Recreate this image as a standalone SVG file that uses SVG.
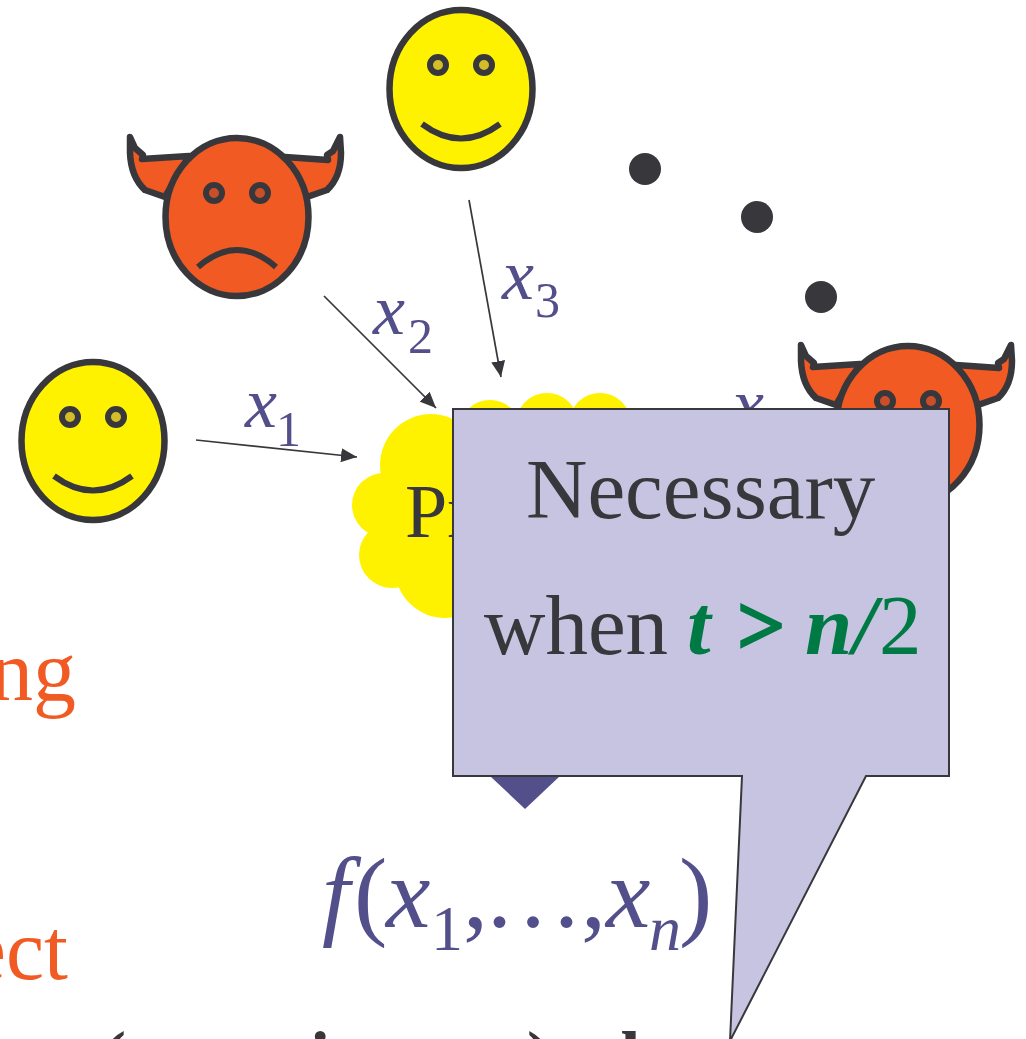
<svg xmlns="http://www.w3.org/2000/svg" width="1026" height="1039" viewBox="0 0 1026 1039">
<style>
text{font-family:"Liberation Serif","Times New Roman",serif}
.face{stroke:#38373c;stroke-width:6.5}
.good{fill:#fff200}
.bad{fill:#f15a22}
.horn{fill:#f15a22;stroke:#38373c;stroke-width:6.5;stroke-linejoin:round}
.eye{stroke:#38373c;stroke-width:6}
.mouth{fill:none;stroke:#38373c;stroke-width:6}
.lab{font-style:italic;fill:#524f8b}
.sub{fill:#524f8b}
.dot{fill:#38373c}
.conn{stroke:#38373c;stroke-width:1.7;fill:none;marker-end:url(#ah)}
.org{fill:#f15a22;font-size:86px}
.grn{fill:#007a45}
.bi{font-weight:bold;font-style:italic}
</style>
<defs>
<marker id="ah" markerUnits="userSpaceOnUse" markerWidth="17" markerHeight="14" refX="16" refY="7" orient="auto"><path d="M0 0L16 7L0 14Z" fill="#38373c"/></marker>
<g id="smile"><ellipse class="face good" cx="0" cy="0" rx="71.5" ry="79"/><circle class="eye" cx="-23" cy="-24" r="8" fill="#d4be28"/><circle class="eye" cx="23" cy="-24" r="8" fill="#d4be28"/><path class="mouth" d="M-39 35Q0 64 39 35"/></g>
<g id="devil"><path class="horn" d="M-107 -80L-102 -69L-94 -62L-95 -58L-48 -61L-72 -20L-92 -27Q-106 -40 -107 -64Z"/><path class="horn" d="M103 -80L96 -66L90 -62L91 -57L48 -60L70 -20L90 -27Q104 -40 104 -64Z"/><ellipse class="face bad" cx="0" cy="0" rx="71.5" ry="79"/><circle class="eye" cx="-23" cy="-24" r="8" fill="#c94f2a"/><circle class="eye" cx="23" cy="-24" r="8" fill="#c94f2a"/><path class="mouth" d="M-39 50Q0 16 39 50"/></g>
</defs>
<text class="org" x="76" y="700" text-anchor="end">ng</text>
<text class="org" x="68" y="979" text-anchor="end">ect</text>
<g id="bottom-text"><text font-weight="bold" font-size="72" fill="#38373c" y="1081"><tspan x="102">(</tspan><tspan x="310">i</tspan><tspan x="527">)</tspan><tspan x="600">d</tspan><tspan x="750">t</tspan></text></g>
<g id="party-1"><use href="#smile" x="93" y="441"/></g>
<g id="party-3"><use href="#smile" x="461" y="89"/></g>
<g id="party-2"><use href="#devil" x="237" y="217"/></g>
<g id="party-n"><use href="#devil" x="908" y="425"/></g>
<g id="dots"><circle class="dot" cx="645" cy="169" r="16"/><circle class="dot" cx="757" cy="217" r="16"/><circle class="dot" cx="821" cy="297" r="16"/></g>
<g id="protocol"><g fill="#fff200"><circle cx="431" cy="465" r="51"/><circle cx="384" cy="505" r="32"/><circle cx="392" cy="555" r="33"/><circle cx="445" cy="568" r="50"/><circle cx="490" cy="431" r="31"/><circle cx="547" cy="424" r="31"/><circle cx="600" cy="424" r="31"/><rect x="400" y="440" width="200" height="150"/></g><text x="405" y="537" font-size="76" fill="#38373c">Pr</text></g>
<g id="connectors"><path class="conn" d="M196 440L357 457"/><path class="conn" d="M324 296L436 408"/><path class="conn" d="M469 200L501 377"/></g>
<g id="labels">
<text class="lab" x="245" y="427" font-size="72">x</text><text class="sub" x="276" y="446" font-size="50">1</text>
<text class="lab" x="373" y="334" font-size="72">x</text><text class="sub" x="408" y="353" font-size="50">2</text>
<text class="lab" x="502" y="299" font-size="72">x</text><text class="sub" x="535" y="317" font-size="50">3</text>
<text class="lab" x="732" y="428" font-size="72">x</text>
<text y="927" font-size="100" class="sub"><tspan x="322" font-style="italic">f</tspan><tspan x="354">(</tspan><tspan x="386" font-style="italic">x</tspan><tspan x="431" y="950" font-size="64">1</tspan><tspan x="463" y="927">,</tspan><tspan x="483">…</tspan><tspan x="581">,</tspan><tspan x="606" font-style="italic">x</tspan><tspan x="649" y="950" font-size="64" font-style="italic">n</tspan><tspan x="679" y="927">)</tspan></text>
</g>
<g id="output-arrow"><path d="M490 776L525 809L560 776Z" fill="#524f8b"/></g>
<g id="callout"><path d="M453 409H949V776H866L730 1041L742 776H453Z" fill="#c6c4e0" stroke="#38373c" stroke-width="2"/>
<text x="526" y="518" font-size="85" fill="#38373c">Necessary</text>
<text y="654" font-size="85" fill="#38373c"><tspan x="484">when</tspan><tspan class="grn bi" x="687">t</tspan><tspan class="grn" x="737" font-weight="bold" stroke="#007a45" stroke-width="2">&gt;</tspan><tspan class="grn bi" x="805">n</tspan><tspan class="grn bi" x="853">/</tspan><tspan class="grn" x="879">2</tspan></text></g>
</svg>
